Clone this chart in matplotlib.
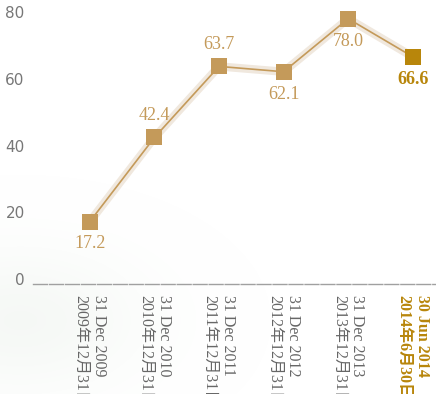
import numpy as np
import matplotlib.pyplot as plt

# NAV per share by reporting date
dates = ['31 Dec 2009\n2009年12月31日',
         '31 Dec 2010\n2010年12月31日',
         '31 Dec 2011\n2011年12月31日',
         '31 Dec 2012\n2012年12月31日',
         '31 Dec 2013\n2013年12月31日',
         '30 Jun 2014\n2014年6月30日']
values = [17.2, 42.4, 63.7, 62.1, 78.0, 66.6]
label_side = ['below', 'above', 'above', 'below', 'below', 'below']
yticks = [0, 20, 40, 60, 80]

gold = '#c49a5a'
gold_dark = '#b8860b'
halo = '#f0e8de'
grey = '#666666'
serif_cjk = ['Liberation Serif', 'Noto Sans CJK SC']

fig = plt.figure(figsize=(4.36, 3.94), dpi=100)
ax = fig.add_axes([33 / 436, 1 - 284 / 394, 403 / 436, 284 / 394])

# faint wash in the lower left corner
yy, xx = np.mgrid[0:394, 0:436]
wash = np.exp(-(((xx - 20) / 120.0) ** 2 + ((yy - 320) / 70.0) ** 2))
rgba = np.zeros((394, 436, 4))
rgba[..., 0] = 0.88
rgba[..., 1] = 0.92
rgba[..., 2] = 0.88
rgba[..., 3] = 0.3 * wash
bg = fig.add_axes([0, 0, 1, 1], zorder=-1)
bg.imshow(rgba, aspect='auto')
bg.axis('off')
ax.patch.set_alpha(0)

x = np.arange(len(values))
ax.plot(x, values, color=halo, lw=6, solid_capstyle='round', zorder=1)
ax.plot(x, values, color=gold, lw=1.2, zorder=2)
ax.scatter(x[:-1], values[:-1], marker='s', s=120, color=gold, zorder=3, linewidths=0)
ax.scatter(x[-1:], values[-1:], marker='s', s=120, color=gold_dark, zorder=3, linewidths=0)

for i, (v, side) in enumerate(zip(values, label_side)):
    last = i == len(values) - 1
    dy = 10 if side == 'above' else -10
    ax.annotate(f'{v:.1f}', (i, v), xytext=(0, dy), textcoords='offset points',
                ha='center', va='bottom' if side == 'above' else 'top',
                fontsize=13, family='Liberation Serif',
                color=gold_dark if last else gold,
                fontweight='bold' if last else 'normal')

ax.set_xlim(-0.88, 5.36)
ax.set_ylim(-1.5, 83.6)
ax.set_yticks(yticks)
ax.set_yticklabels([str(t) for t in yticks], color='#777777', fontsize=11,
                   family='DejaVu Sans')
ax.tick_params(axis='y', length=0, pad=6)
ax.set_xticks(x)
ax.set_xticklabels(dates, rotation=-90, va='top', ha='center', fontsize=11.5,
                   family=serif_cjk, color=grey, linespacing=1.2,
                   multialignment='left')
ax.tick_params(axis='x', length=0, pad=8)
last_lbl = ax.get_xticklabels()[-1]
last_lbl.set_color(gold_dark)
last_lbl.set_fontweight('bold')

for s in ['top', 'right', 'left']:
    ax.spines[s].set_visible(False)
ax.spines['bottom'].set_color('#a0a0a0')
ax.spines['bottom'].set_linewidth(1)
ax.spines['bottom'].set_linestyle((0, (10, 1.5)))

fig.savefig('out.png', dpi=100)
